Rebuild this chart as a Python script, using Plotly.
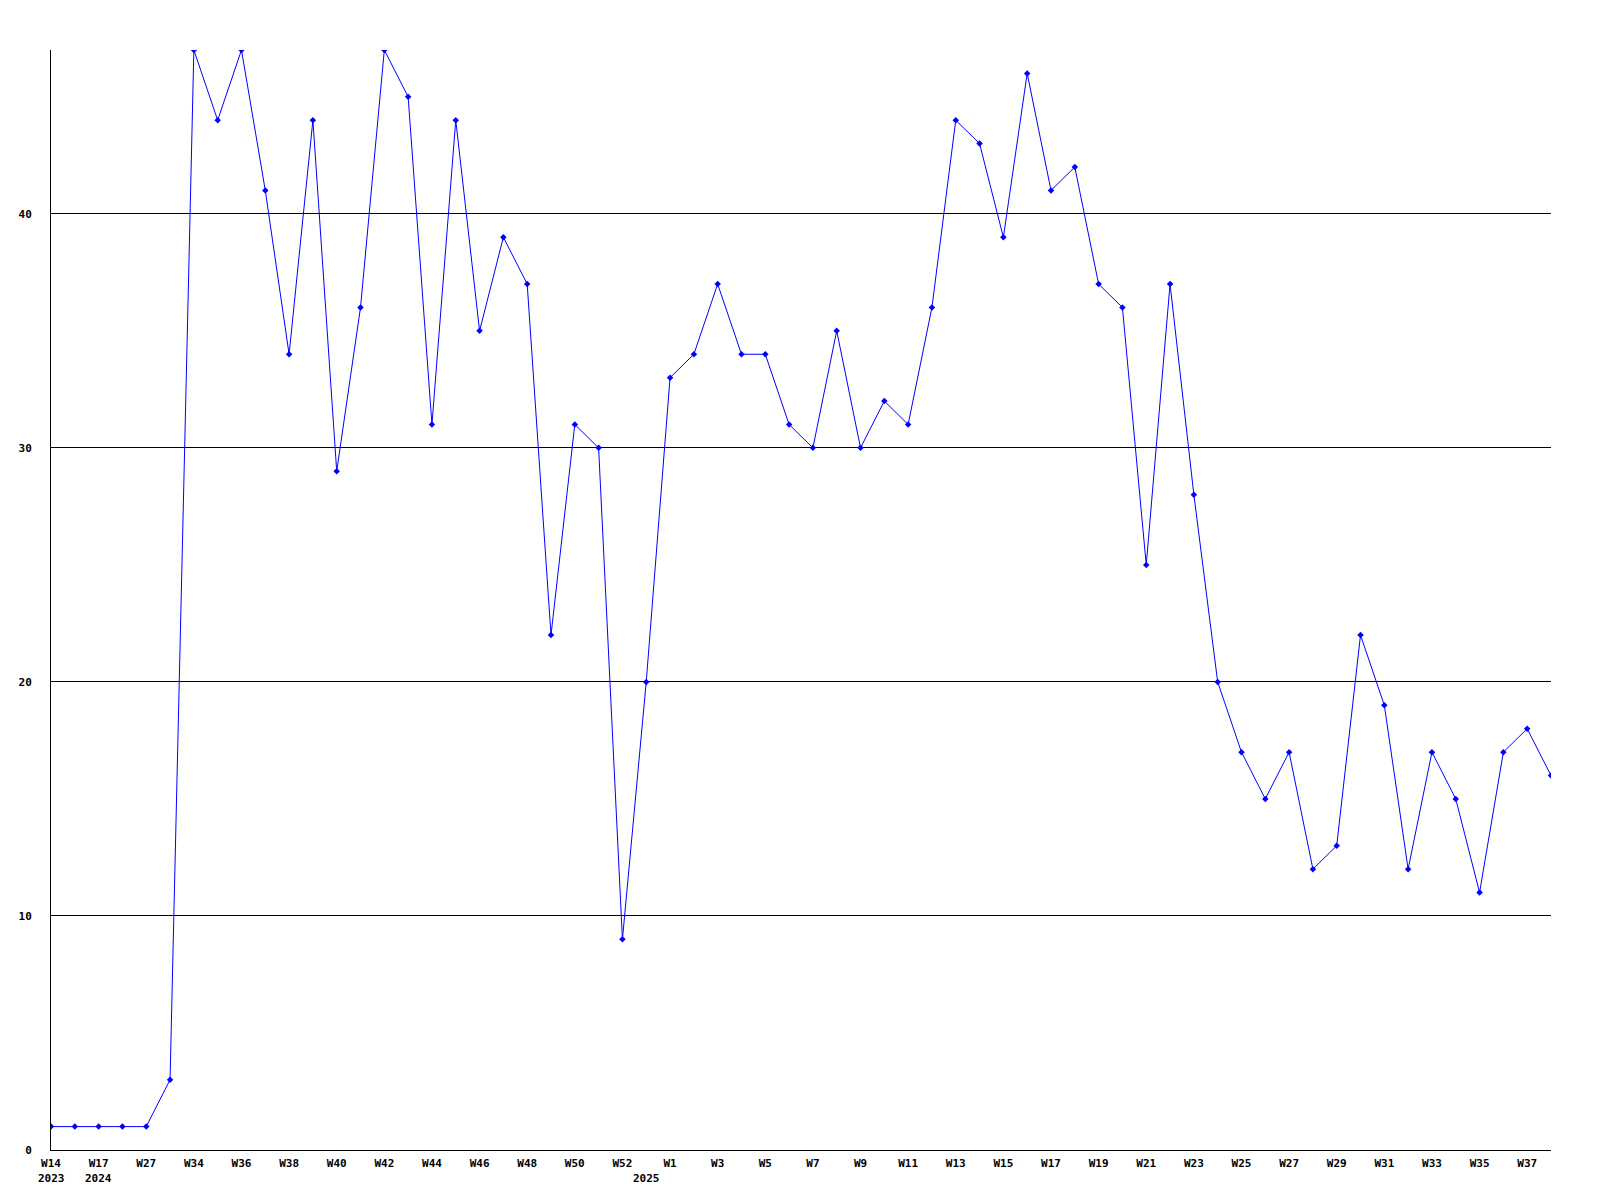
import plotly.graph_objects as go

values = [1, 1, 1, 1, 1, 3, 47, 44, 47, 41, 34, 44, 29, 36, 47, 45, 31, 44, 35, 39,
          37, 22, 31, 30, 9, 20, 33, 34, 37, 34, 34, 31, 30, 35, 30, 32, 31, 36, 44, 43,
          39, 46, 41, 42, 37, 36, 25, 37, 28, 20, 17, 15, 17, 12, 13, 22, 19, 12, 17, 15,
          11, 17, 18, 16]
week_labels = ["W14", "W17", "W27", "W34", "W36", "W38", "W40", "W42", "W44", "W46",
               "W48", "W50", "W52", "W1", "W3", "W5", "W7", "W9", "W11", "W13",
               "W15", "W17", "W19", "W21", "W23", "W25", "W27", "W29", "W31", "W33",
               "W35", "W37"]
year_labels = ["2023", "2024", "2025"]
year_positions = [0, 2, 25]
y_ticks = [0, 10, 20, 30, 40]

x_idx = list(range(len(values)))
tick_positions = list(range(0, len(values), 2))[:len(week_labels)]

FONT = "DejaVu Sans Mono"

fig = go.Figure()
fig.add_trace(go.Scatter(
    x=x_idx, y=values, mode="lines+markers",
    line=dict(color="#0000ff", width=1),
    marker=dict(symbol="diamond", size=5, color="#0000ff"),
    cliponaxis=True, showlegend=False,
))

for lbl, pos in zip(year_labels, year_positions):
    fig.add_annotation(x=pos, y=0, xref="x", yref="paper", text=lbl,
                       showarrow=False, yshift=-28, yanchor="middle",
                       font=dict(family=FONT, size=11, color="black", weight="bold"))

fig.update_layout(
    width=1600, height=1200,
    paper_bgcolor="white", plot_bgcolor="white",
    margin=dict(l=43, r=57, t=42, b=58),
    xaxis=dict(range=[0, len(values) - 1], tickvals=tick_positions, ticktext=week_labels,
               showgrid=False, zeroline=False, showline=True, linecolor="black", linewidth=1,
               ticks="", tickangle=0, ticklabelstandoff=3,
               tickfont=dict(family=FONT, size=11, color="black", weight="bold")),
    yaxis=dict(range=[0, 47], tickvals=y_ticks, showgrid=True, gridcolor="black", gridwidth=1,
               zeroline=False, showline=True, linecolor="black", linewidth=1,
               ticks="", ticklabelstandoff=16,
               tickfont=dict(family=FONT, size=11, color="black", weight="bold")),
)

fig.write_html("out.html")
